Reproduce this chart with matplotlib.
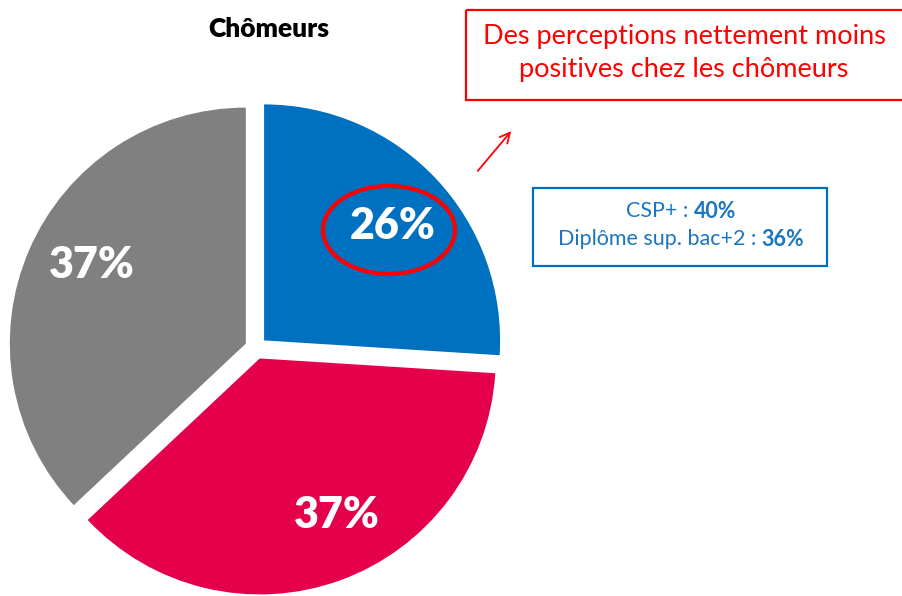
import matplotlib.pyplot as plt
from matplotlib.patches import Ellipse, Rectangle

# data
labels = ["Positif", "Négatif", "Neutre"]
values = [26, 37, 37]
colors = ["#0070C0", "#E4004A", "#808080"]
label_pos = [(393, 226), (337, 515), (92, 265)]  # pixel positions of the % labels

title = "Chômeurs"
callout = "Des perceptions nettement moins\npositives chez les chômeurs"
detail_rows = [("CSP+ : ", "40%"), ("Diplôme sup. bac+2 : ", "36%")]

W, H = 903, 596
FONT = "Lato"

fig = plt.figure(figsize=(W / 100, H / 100), dpi=100)

# pie axes, placed so the pie center sits at pixel (256, 348) with radius 236 px
cx, cy, r = 256, 348, 236
half = 1.25 * r
ax_pie = fig.add_axes([(cx - half) / W, (H - cy - half) / H, 2 * half / W, 2 * half / H])
ax_pie.pie(values, colors=colors, startangle=90, counterclock=False,
           explode=[0.047] * 3, wedgeprops=dict(linewidth=0))
ax_pie.set_xlim(-1.25, 1.25)
ax_pie.set_ylim(-1.25, 1.25)
ax_pie.axis("off")

# overlay axes in pixel coordinates
ax = fig.add_axes([0, 0, 1, 1])
ax.set_xlim(0, W)
ax.set_ylim(H, 0)
ax.axis("off")

for v, (x, y) in zip(values, label_pos):
    ax.text(x, y, f"{v}%", color="white", fontsize=31, fontweight="heavy",
            family=FONT, ha="center", va="center")

ax.add_patch(Ellipse((389, 230), 132, 88, fill=False, edgecolor="#FF0000", linewidth=3))

ax.text(269, 29, title, fontsize=19, fontweight="heavy", family=FONT,
        ha="center", va="center", color="black")

# red callout box
ax.add_patch(Rectangle((466, 10), 440, 90, fill=False, edgecolor="#FF0000", linewidth=1.6))
ax.text(684, 53, callout, color="#FF0000", fontsize=19.5, family=FONT,
        ha="center", va="center", linespacing=1.4)
ax.annotate("", xy=(513, 129), xytext=(476, 173),
            arrowprops=dict(arrowstyle="->", color="#FF0000", lw=1.3, mutation_scale=18))

# blue detail box, each row centered: normal part then bold part
ax.add_patch(Rectangle((533, 188), 294, 78, fill=False, edgecolor="#0070C0", linewidth=1.6))
renderer = fig.canvas.get_renderer()
box_cx = 681
row_y = [211, 239]
for (norm, bold), ry in zip(detail_rows, row_y):
    t1 = ax.text(0, ry, norm, color="#1A75C2", fontsize=15.5, family=FONT, ha="left", va="center")
    t2 = ax.text(0, ry, bold, color="#1A75C2", fontsize=15.5, family=FONT, fontweight="bold",
                 ha="left", va="center")
    w1 = t1.get_window_extent(renderer).width
    w2 = t2.get_window_extent(renderer).width
    x0 = box_cx - (w1 + w2) / 2
    t1.set_x(x0)
    t2.set_x(x0 + w1)

fig.savefig("out.png", dpi=100)
